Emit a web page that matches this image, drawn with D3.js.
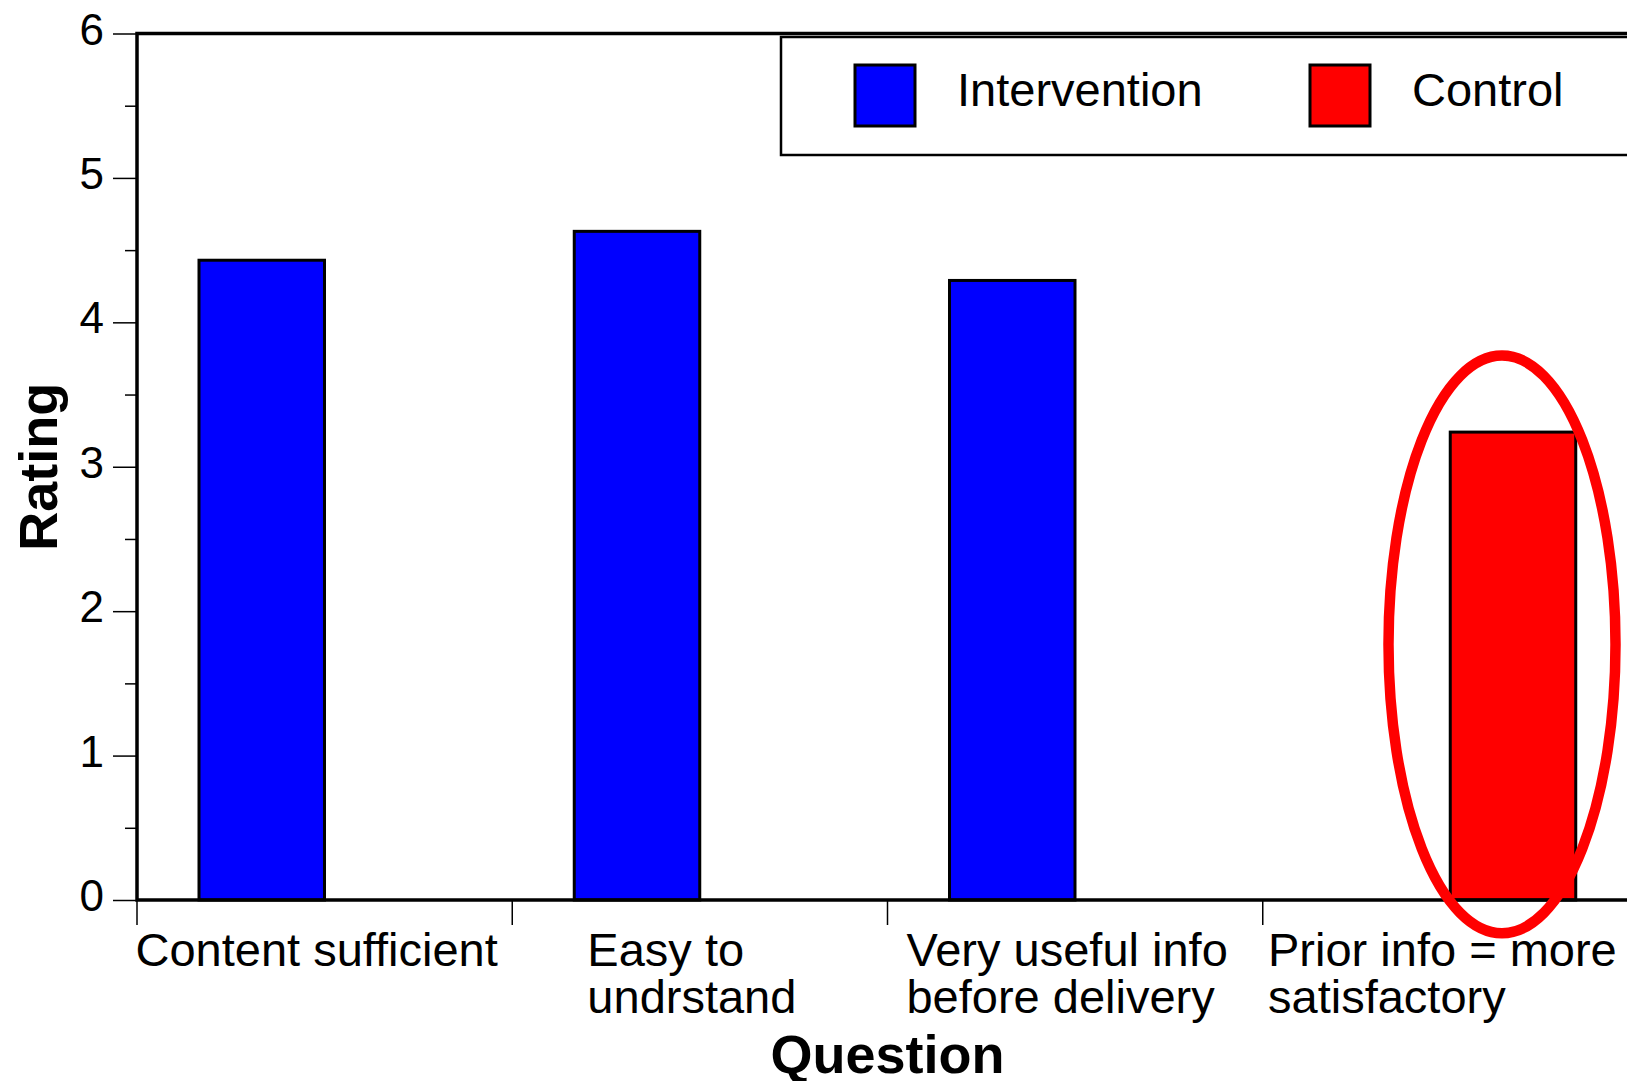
<!DOCTYPE html>
<html><head><meta charset="utf-8">
<script src="https://cdn.jsdelivr.net/npm/d3@7"></script>
<style>html,body{margin:0;padding:0;background:#fff;overflow:hidden}
text{font-family:"Liberation Sans",Arial,Helvetica,sans-serif;fill:#000}</style>
</head><body>
<svg id="chart" width="1627" height="1081"></svg>
<script>
// ---- data ----
const categories = ["Content sufficient", "Easy to\nundrstand", "Very useful info\nbefore delivery", "Prior info = more\nsatisfactory"];
const series = ["Intervention", "Control"];
const interventionValues = [4.43, 4.63, 4.29, null];
const controlValues = [null, null, null, 3.24];
const yTicks = [0, 1, 2, 3, 4, 5, 6];
const yMinorTicks = [0.5, 1.5, 2.5, 3.5, 4.5, 5.5];
const xTitle = "Question";
const yTitle = "Rating";
const highlight = {category: "Prior info = more\nsatisfactory", series: "Control", center: 1.77, halfSpan: 2.0};

// ---- layout ----
const W = 1627, H = 1081;
const m = {left: 137, top: 33.5};
const plotW = 1501, plotH = 866.5;
const colors = {Intervention: "#0000ff", Control: "#ff0000"};

const svg = d3.select("#chart");
const g = svg.append("g").attr("transform", `translate(${m.left},${m.top})`);

const x0 = d3.scaleBand().domain(categories).range([0, plotW]).padding(0);
const x1 = d3.scaleBand().domain(series).range([62, 313]).padding(0);
const y = d3.scaleLinear().domain([0, 6]).range([plotH, 0]);

const rows = categories.map((c, i) => ({cat: c, Intervention: interventionValues[i], Control: controlValues[i]}));

// bars
const groups = g.selectAll("g.grp").data(rows).join("g").attr("class", "grp")
  .attr("transform", d => `translate(${x0(d.cat)},0)`);
groups.selectAll("rect").data(d => series.map(s => ({s, v: d[s]})).filter(e => e.v != null))
  .join("rect")
  .attr("x", e => x1(e.s)).attr("width", x1.bandwidth())
  .attr("y", e => y(e.v)).attr("height", e => y(0) - y(e.v))
  .attr("fill", e => colors[e.s]).attr("stroke", "#000").attr("stroke-width", 3);

// y axis ticks
const yAxis = d3.axisLeft(y).tickValues(yTicks).tickSize(24).tickPadding(8).tickFormat(d3.format("d"));
const ya = g.append("g").call(yAxis);
ya.select(".domain").remove();
ya.selectAll("line").attr("stroke", "#000").attr("stroke-width", 1.5);
ya.selectAll("text").attr("font-size", 44).attr("dy", null).attr("y", 10.5).attr("x", -33);
const yMinor = d3.axisLeft(y).tickValues(yMinorTicks).tickSize(12).tickFormat("");
const ym = g.append("g").call(yMinor);
ym.select(".domain").remove();
ym.selectAll("line").attr("stroke", "#000").attr("stroke-width", 1.5);

// x axis ticks at band boundaries
const xa = g.append("g").attr("transform", `translate(0,${plotH})`);
xa.selectAll("line").data(categories).join("line")
  .attr("x1", d => x0(d)).attr("x2", d => x0(d)).attr("y1", 0).attr("y2", 25)
  .attr("stroke", "#000").attr("stroke-width", 1.5);

// category labels (left-aligned block, roughly centered in band)
categories.forEach(c => {
  const lines = c.split("\n");
  const t = xa.append("text").attr("font-size", 47);
  lines.forEach((l, i) => t.append("tspan").attr("x", 0).attr("y", 66 + i * 47).text(l));
  const w = t.node().getBBox().width;
  t.attr("transform", `translate(${x0(c) + x0.bandwidth() / 2 - w / 2 - 8},0)`);
});

// frame
g.append("rect").attr("x", 0).attr("y", 0).attr("width", plotW).attr("height", plotH)
  .attr("fill", "none").attr("stroke", "#000").attr("stroke-width", 3.5);

// axis titles
svg.append("text").attr("x", m.left + plotW / 2).attr("y", 1073).attr("text-anchor", "middle")
  .attr("font-size", 54).attr("font-weight", "bold").text(xTitle);
svg.append("text").attr("transform", `translate(57,${m.top + plotH / 2}) rotate(-90)`)
  .attr("text-anchor", "middle").attr("font-size", 54).attr("font-weight", "bold").text(yTitle);

// legend
const lg = svg.append("g").attr("transform", "translate(781,37)");
lg.append("rect").attr("x", 0).attr("y", 0).attr("width", 1000).attr("height", 118)
  .attr("fill", "#fff").attr("stroke", "#000").attr("stroke-width", 2.5);
const legX = [74, 529];
series.forEach((s, i) => {
  lg.append("rect").attr("x", legX[i]).attr("y", 28).attr("width", 60).attr("height", 61)
    .attr("fill", colors[s]).attr("stroke", "#000").attr("stroke-width", 3);
  lg.append("text").attr("x", legX[i] + 102).attr("y", 69).attr("font-size", 47).text(s);
});

// highlight ellipse
const hx = x0(highlight.category) + x1(highlight.series) + x1.bandwidth() / 2 - 11;
g.append("ellipse").attr("cx", hx).attr("cy", y(highlight.center))
  .attr("rx", 113.5).attr("ry", y(0) - y(highlight.halfSpan))
  .attr("fill", "none").attr("stroke", "#ff0000").attr("stroke-width", 10.5);
</script>
</body></html>
